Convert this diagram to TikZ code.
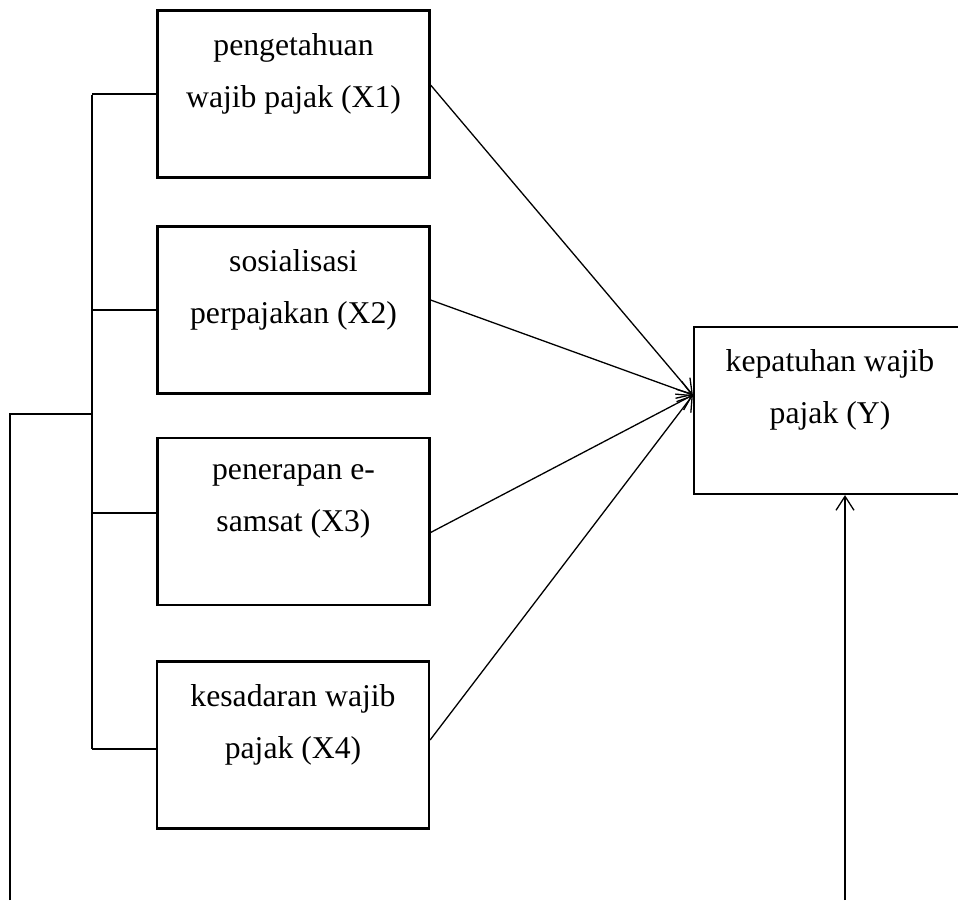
\documentclass[tikz,border=0pt]{standalone}
\usepackage{fontspec}
\setmainfont{Liberation Serif}
\usetikzlibrary{arrows.meta}
\begin{document}
\begin{tikzpicture}[x=0.5pt, y=-0.5pt,
  box/.style={rectangle, draw=black, line width=1.1pt, minimum width=136pt, minimum height=83.5pt, align=center, inner sep=0pt, font=\fontsize{15.85}{26}\selectfont},
  link/.style={line width=0.65pt, black},
  >={Straight Barb[length=7pt, width=9pt]}]
\clip (0,0) rectangle (958,900);
\node[box] (x1) at (293.5, 94) {pengetahuan\\wajib pajak (X1)\\[-10pt]\strut};
\node[box] (x2) at (293.5, 310) {sosialisasi\\perpajakan (X2)\\[-10pt]\strut};
\node[box] (x3) at (293.5, 521.5) {penerapan e-\\samsat (X3)\\[-10pt]\strut};
\node[box] (x4) at (293, 745) {kesadaran wajib\\pajak (X4)\\[-10pt]\strut};
\node[box] (y) at (830, 410.5) {kepatuhan wajib\\pajak (Y)\\[-10pt]\strut};
\coordinate (spinetop) at (92, 95);
\coordinate (spinebot) at (92, 749);
\coordinate (join) at (92, 414);
\coordinate (feedleft) at (10, 900);
\coordinate (feedright) at (845, 900);
% bracket on the left
\draw[link] (spinetop) -- (spinebot);
\draw[link] (x1.west) -- (x1.west -| spinetop);
\draw[link] (x2.west) -- (x2.west -| spinetop);
\draw[link] ([yshift=4.25pt]x3.west) -- ([yshift=4.25pt]x3.west -| spinetop);
\draw[link] ([yshift=-2pt]x4.west) -- ([yshift=-2pt]x4.west -| spinetop);
\draw[link] (feedleft) |- (join);
% arrows to Y
\draw[link, ->] ([yshift=4.5pt]x1.east) -- ([yshift=7.75pt]y.west);
\draw[link, ->] ([yshift=5pt]x2.east) -- ([yshift=7.75pt]y.west);
\draw[link, ->] ([yshift=-5.5pt]x3.east) -- ([yshift=7.75pt]y.west);
\draw[link, ->] ([yshift=2.5pt]x4.east) -- ([yshift=7.75pt]y.west);
\draw[link, ->] (feedright) -- (feedright |- y.south);
\end{tikzpicture}
\end{document}
